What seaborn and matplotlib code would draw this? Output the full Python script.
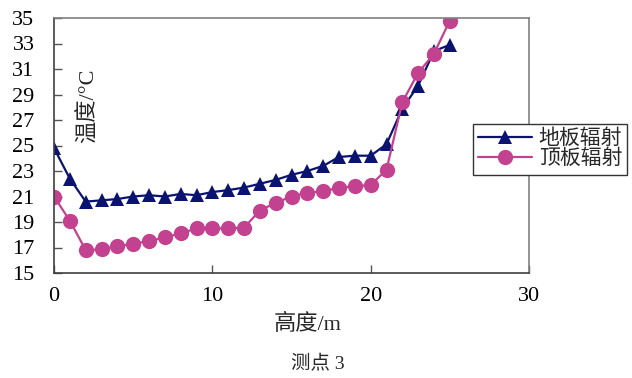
import numpy as np
import pandas as pd
import matplotlib
matplotlib.use("Agg")
import matplotlib.pyplot as plt
import seaborn as sns

# data
height = list(range(26))
floor_rad = [24.8, 22.4, 20.6, 20.7, 20.8, 21.0, 21.1, 21.0, 21.2, 21.1,
             21.35, 21.5, 21.7, 22.0, 22.3, 22.7, 23.0, 23.4, 24.1, 24.2,
             24.2, 25.1, 27.9, 29.7, 32.4, 32.9]
ceil_rad = [21.0, 19.1, 16.8, 16.85, 17.1, 17.3, 17.5, 17.8, 18.1, 18.5,
            18.5, 18.5, 18.55, 19.9, 20.5, 21.0, 21.3, 21.4, 21.7, 21.8,
            21.9, 23.1, 28.4, 30.7, 32.2, 34.8]
yticks = list(range(15, 36, 2))
xticks = [0, 10, 20, 30]

sns.set_style("ticks")
plt.rcParams['font.family'] = ['Liberation Serif', 'Noto Sans CJK SC', 'DejaVu Sans']

df = pd.DataFrame({'h': height, 'floor': floor_rad, 'ceil': ceil_rad})

fig = plt.figure(figsize=(6.32, 3.78), dpi=100)
ax = fig.add_axes([54/632, 1-273/378, (529-54)/632, (273-18)/378])

sns.lineplot(data=df, x='h', y='floor', ax=ax, color='#0a1470', marker='^',
             markersize=10, markeredgewidth=0, linewidth=1.6, label='地板辐射')
sns.lineplot(data=df, x='h', y='ceil', ax=ax, color='#c2428f', marker='o',
             markersize=11, markeredgewidth=0, linewidth=1.6, label='顶板辐射')

ax.set_xlim(0, 30)
ax.set_ylim(15, 35)
ax.set_xticks(xticks)
ax.set_yticks(yticks)
ax.tick_params(direction='in', length=6, width=1, colors='#555555',
               labelsize=16, labelcolor='black')
ax.tick_params(axis='y', pad=14)
ax.tick_params(axis='x', pad=10)
for side, s in ax.spines.items():
    s.set_color('#404040' if side in ('left', 'bottom') else '#808080')
    s.set_linewidth(1.2)
ax.set_xlabel('')
ax.set_ylabel('')

ax.text((88-54)/475, 0.655, '温度/°C', transform=ax.transAxes, rotation=90,
        ha='center', va='center', fontsize=16)
fig.text(308/632, 1-324/378, '高度/m', ha='center', va='center', fontsize=16)
fig.text(318/632, 1-364/378, '测点 3', ha='center', va='center', fontsize=14)

leg = ax.legend(loc='upper left', bbox_to_anchor=(473/632, 1-124/378),
                bbox_transform=fig.transFigure, fontsize=15, frameon=True,
                fancybox=False, framealpha=1, edgecolor='#333333',
                handlelength=2.6, handletextpad=0.3, borderpad=0.25,
                labelspacing=0.05, borderaxespad=0)
leg.get_frame().set_linewidth(1.0)

fig.savefig('out.png', dpi=100)
